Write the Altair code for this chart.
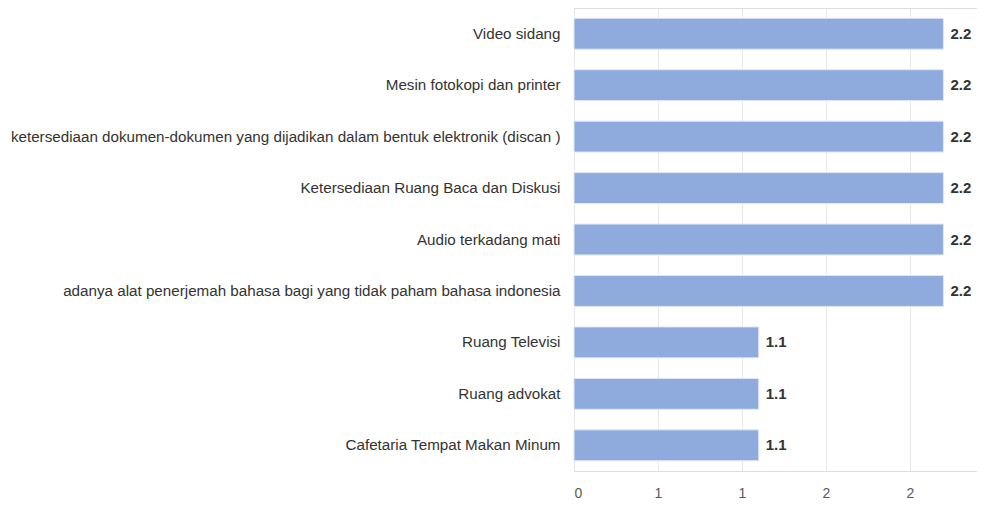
import altair as alt
import pandas as pd

categories = [
    "Video sidang",
    "Mesin fotokopi dan printer",
    "ketersediaan dokumen-dokumen yang dijadikan dalam bentuk elektronik (discan )",
    "Ketersediaan Ruang Baca dan Diskusi",
    "Audio terkadang mati",
    "adanya alat penerjemah bahasa bagi yang tidak paham bahasa indonesia",
    "Ruang Televisi",
    "Ruang advokat",
    "Cafetaria Tempat Makan Minum",
]
values = [2.2, 2.2, 2.2, 2.2, 2.2, 2.2, 1.1, 1.1, 1.1]
tick_values = [0, 0.5, 1, 1.5, 2]

df = pd.DataFrame({"category": categories, "value": values})

FONT = "Liberation Sans Narrow, sans-serif"

y_enc = alt.Y(
    "category:N",
    sort=None,
    title=None,
    scale=alt.Scale(paddingInner=0.4, paddingOuter=0.2),
    axis=alt.Axis(
        domain=False,
        ticks=False,
        grid=False,
        labelFont=FONT,
        labelFontSize=15.2,
        labelColor="#333333",
        labelPadding=14,
        labelLimit=600,
        minExtent=566,
        maxExtent=566,
    ),
)
x_enc = alt.X(
    "value:Q",
    title=None,
    scale=alt.Scale(domain=[0, 2.4], nice=False),
    axis=alt.Axis(
        values=tick_values,
        format=".0f",
        domain=False,
        domainOpacity=0,
        ticks=False,
        grid=True,
        gridColor="#e8e8e8",
        labelFont=FONT,
        labelFontSize=14,
        labelColor="#595959",
        labelPadding=15,
    ),
)

bars = alt.Chart(df).mark_bar(color="#8FAADC", stroke="#dfe7f5", strokeWidth=1).encode(
    y=y_enc, x=x_enc
)
text = alt.Chart(df).mark_text(
    align="left", dx=7, font=FONT, fontSize=15, fontWeight="bold", color="#333333"
).encode(
    y=alt.Y("category:N", sort=None),
    x=alt.X("value:Q"),
    text=alt.Text("value:Q", format=".1f"),
)

chart = (
    alt.layer(bars, text)
    .properties(width=403, height=463)
    .configure_view(stroke=None, strokeWidth=0, strokeOpacity=0)
    .configure_axis(domain=False, ticks=False)
    .configure_axisX(domain=False, domainOpacity=0)
    .configure(background="white", padding={"left": 0, "top": 0, "right": 0, "bottom": 0})
)

chart.save("out.html", embed_options={"renderer": "svg", "actions": False})
